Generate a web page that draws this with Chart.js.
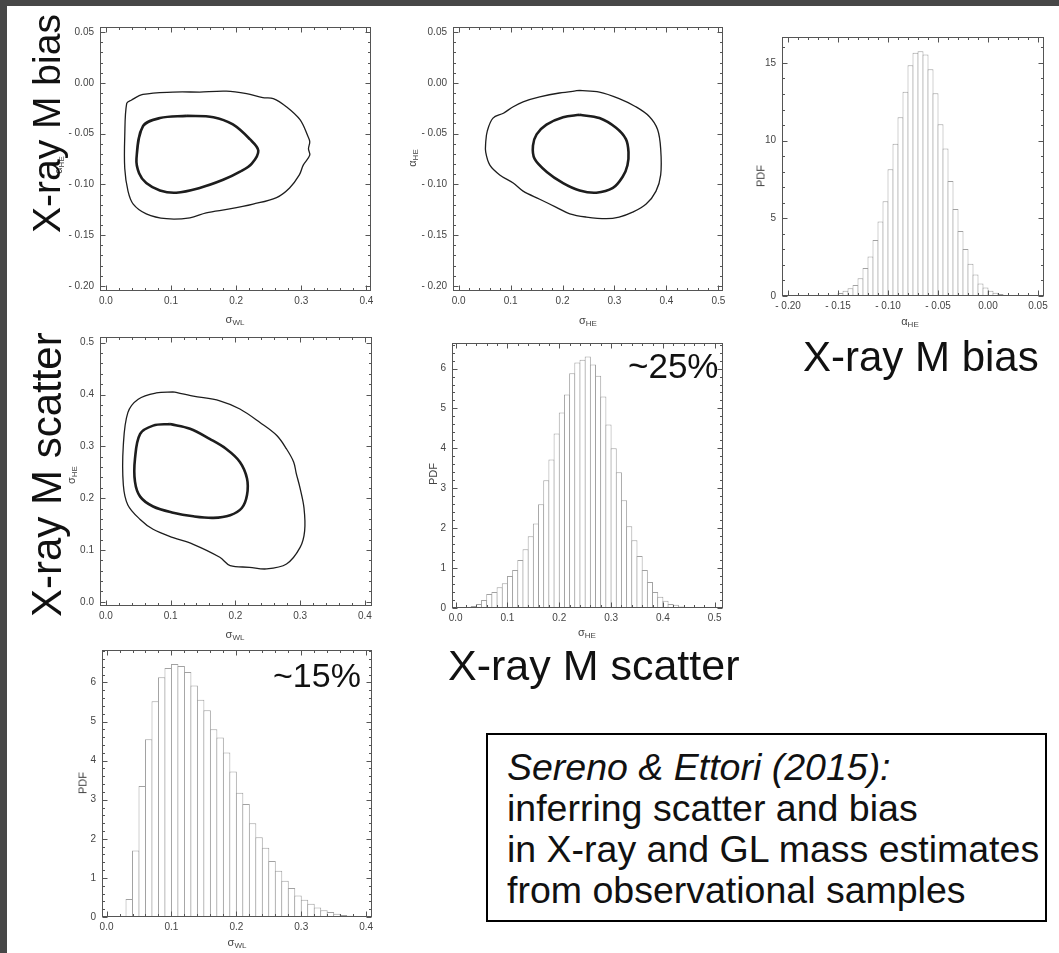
<!DOCTYPE html>
<html lang="en">
<head>
<meta charset="UTF-8">
<title>Sereno &amp; Ettori (2015): scatter and bias</title>
<script src="https://cdn.jsdelivr.net/npm/chart.js@4"></script>
<style>
  html, body { margin: 0; padding: 0; }
  body { width: 1059px; height: 953px; background: #474747; position: relative; overflow: hidden;
         font-family: "Liberation Sans", Arial, sans-serif; }
  .sheet { position: absolute; left: 7px; top: 6px; right: 0; bottom: 0; background: #fff; }
  canvas { position: absolute; }
  .ax { position: absolute; white-space: nowrap; line-height: 1; color: #444; font-size: 11px;
        transform: translate(-50%, -50%); }
  .ax.rot { transform: translate(-50%, -50%) rotate(-90deg); }
  .ax sub { font-size: 8px; vertical-align: -2px; }
  .big { position: absolute; white-space: nowrap; line-height: 1; color: #111; }
  .big.rot { transform-origin: 0 0; transform: rotate(-90deg); }
  .note { position: absolute; left: 486px; top: 733px; width: 557px; height: 185px;
          border: 2px solid #000; box-sizing: content-box; }
  .note p { margin: 0; padding: 12px 0 0 19px; font-size: 37.5px; line-height: 41px; color: #111; }
</style>
</head>
<body>
<div class="sheet"></div>

<script>
// axis ticks
const wlTicks = [0, 0.1, 0.2, 0.3, 0.4];
const heTicks = [0, 0.1, 0.2, 0.3, 0.4, 0.5];
const biasTicks = [-0.20, -0.15, -0.10, -0.05, 0.00, 0.05];
const pdfBiasTicks = [0, 5, 10, 15];
const pdfTicks = [0, 1, 2, 3, 4, 5, 6];

// PDF of alpha_HE, bins of 0.005 from -0.165
const biasBinStart = -0.165;
const biasBinWidth = 0.005;
const biasPdf = [0.02, 0.04, 0.08, 0.2, 0.34, 0.5, 0.7, 1.15, 1.8, 2.55, 3.6, 4.8, 6.1,
  8.15, 9.8, 11.5, 13.14, 14.85, 15.65, 15.76, 15.55, 14.6, 13.05, 11.05, 9.5, 7.4,
  5.6, 4.18, 3.02, 2.07, 1.39, 0.8, 0.55, 0.34, 0.21, 0.13, 0.06, 0.03];

// PDF of sigma_HE, bins of 0.01 from 0.02
const heBinStart = 0.02;
const heBinWidth = 0.01;
const hePdf = [0.02, 0.05, 0.1, 0.2, 0.35, 0.4, 0.52, 0.62, 0.8, 0.95, 1.2, 1.47, 1.8,
  2.12, 2.6, 3.2, 3.72, 4.37, 4.9, 5.35, 5.88, 6.15, 6.22, 6.3, 6.1, 5.82, 5.3, 4.6,
  4.0, 3.4, 2.7, 2.05, 1.7, 1.3, 0.95, 0.65, 0.4, 0.28, 0.18, 0.1, 0.08, 0.04, 0.02, 0.01];

// PDF of sigma_WL, bins of 0.01 from 0.03
const wlBinStart = 0.03;
const wlBinWidth = 0.01;
const wlPdf = [0.46, 1.7, 3.35, 4.55, 5.52, 6.13, 6.37, 6.47, 6.42, 6.27, 5.92, 5.56,
  5.29, 4.8, 4.59, 4.21, 3.72, 3.18, 2.89, 2.4, 2.04, 1.77, 1.43, 1.18, 0.93, 0.74,
  0.55, 0.44, 0.34, 0.24, 0.17, 0.13, 0.08, 0.05, 0.03, 0.02, 0.01];

// confidence contours, [x, y]; each loop starts on its flat top edge
const wlBiasInner = [[0.124, -0.0325], [0.165, -0.0338], [0.195, -0.041], [0.221, -0.0555],
  [0.234, -0.0667], [0.224, -0.0795], [0.206, -0.0875], [0.18, -0.0955], [0.144, -0.1035],
  [0.108, -0.1082], [0.083, -0.106], [0.062, -0.0987], [0.051, -0.089], [0.047, -0.0747],
  [0.057, -0.0427], [0.083, -0.0347]];
const wlBiasOuter = [[0.144, -0.0091], [0.185, -0.0082], [0.216, -0.0107], [0.241, -0.0146],
  [0.257, -0.0155], [0.277, -0.0235], [0.298, -0.0363], [0.31, -0.0523], [0.313, -0.058],
  [0.311, -0.065], [0.313, -0.0712], [0.303, -0.081], [0.297, -0.0907], [0.282, -0.1035],
  [0.262, -0.113], [0.226, -0.1194], [0.19, -0.1242], [0.154, -0.128], [0.129, -0.1329],
  [0.093, -0.1338], [0.062, -0.129], [0.042, -0.1194], [0.034, -0.1066], [0.029, -0.0843],
  [0.029, -0.0523], [0.032, -0.0203], [0.039, -0.0171], [0.057, -0.0114], [0.103, -0.0091]];
const heBiasInner = [[0.233, -0.0315], [0.271, -0.0347], [0.303, -0.0443], [0.322, -0.0555],
  [0.327, -0.0683], [0.325, -0.0811], [0.316, -0.0923], [0.297, -0.1035], [0.265, -0.1082],
  [0.233, -0.106], [0.201, -0.0987], [0.169, -0.0875], [0.146, -0.0747], [0.143, -0.0619],
  [0.15, -0.0507], [0.169, -0.0411], [0.201, -0.0338]];
const heBiasOuter = [[0.233, -0.0075], [0.271, -0.0091], [0.309, -0.0155], [0.341, -0.0235],
  [0.367, -0.0331], [0.383, -0.0459], [0.389, -0.0651], [0.389, -0.0907], [0.38, -0.1066],
  [0.361, -0.1194], [0.335, -0.1274], [0.309, -0.1322], [0.284, -0.1338], [0.246, -0.1322],
  [0.214, -0.129], [0.188, -0.1226], [0.156, -0.1146], [0.124, -0.1066], [0.105, -0.0987],
  [0.079, -0.0907], [0.06, -0.0811], [0.052, -0.0683], [0.052, -0.0587], [0.055, -0.0475],
  [0.066, -0.0347], [0.086, -0.0299], [0.105, -0.0235], [0.124, -0.0187], [0.156, -0.0139],
  [0.194, -0.01]];
const wlHeInner = [[0.099, 0.343], [0.13, 0.334], [0.161, 0.314], [0.186, 0.295], [0.207, 0.27],
  [0.218, 0.238], [0.218, 0.206], [0.21, 0.181], [0.192, 0.167], [0.166, 0.162], [0.135, 0.165],
  [0.104, 0.172], [0.073, 0.184], [0.053, 0.203], [0.045, 0.232], [0.045, 0.276], [0.053, 0.324],
  [0.073, 0.34]];
const wlHeOuter = [[0.104, 0.405], [0.135, 0.397], [0.176, 0.388], [0.207, 0.372], [0.238, 0.346],
  [0.264, 0.321], [0.279, 0.295], [0.29, 0.27], [0.294, 0.248], [0.3, 0.219], [0.306, 0.181],
  [0.307, 0.137], [0.3, 0.105], [0.279, 0.073], [0.248, 0.0635], [0.222, 0.0667], [0.192, 0.07],
  [0.176, 0.086], [0.135, 0.111], [0.104, 0.124], [0.073, 0.14], [0.053, 0.159], [0.034, 0.187],
  [0.027, 0.226], [0.027, 0.302], [0.034, 0.365], [0.05, 0.391], [0.078, 0.403]];

Chart.defaults.font.family = "'Liberation Sans', Arial, sans-serif";

// "- 0.05" style labels
const signed = d => v => (v < -1e-9 ? '- ' : '') + Math.abs(v).toFixed(d);
const plain = v => String(v);

// Mathematica-like frame: box plus inward ticks on all four sides
const framePlugin = {
  id: 'frame',
  afterDraw(chart) {
    const o = chart.options.plugins.frame;
    if (!o) return;
    const { ctx, chartArea: a, scales: { x, y } } = chart;
    const l = Math.round(a.left) + 0.5, r = Math.round(a.right) - 0.5;
    const t = Math.round(a.top) + 0.5, b = Math.round(a.bottom) - 0.5;
    ctx.save();
    ctx.strokeStyle = '#555';
    ctx.lineWidth = 1;
    ctx.beginPath();
    const tickX = (v, len) => {
      const p = Math.round(x.getPixelForValue(v)) + 0.5;
      ctx.moveTo(p, b); ctx.lineTo(p, b - len);
      ctx.moveTo(p, t); ctx.lineTo(p, t + len);
    };
    const tickY = (v, len) => {
      const p = Math.round(y.getPixelForValue(v)) + 0.5;
      ctx.moveTo(l, p); ctx.lineTo(l + len, p);
      ctx.moveTo(r, p); ctx.lineTo(r - len, p);
    };
    const minors = (scale, major, step, draw) => {
      for (let k = Math.ceil(scale.min / step - 1e-6); k * step <= scale.max + 1e-9; k++) {
        const v = k * step;
        if (!major.some(m => Math.abs(m - v) < step / 10)) draw(v, 2.5);
      }
    };
    o.xTicks.forEach(v => tickX(v, 5));
    o.yTicks.forEach(v => tickY(v, 5));
    minors(x, o.xTicks, o.xMinor, tickX);
    minors(y, o.yTicks, o.yMinor, tickY);
    ctx.stroke();
    ctx.strokeRect(l, t, r - l, b - t);
    ctx.restore();
  }
};

const Y_AXIS_W = 44, X_AXIS_H = 22, PAD_T = 8, PAD_R = 16;

function axis(min, max, ticks, fmt, isX) {
  return {
    type: 'linear', min, max, offset: false,
    grid: { display: false, drawTicks: false },
    border: { display: false },
    afterBuildTicks: s => { s.ticks = ticks.map(v => ({ value: v })); },
    afterFit: s => { if (isX) s.height = X_AXIS_H; else s.width = Y_AXIS_W; },
    ticks: { color: '#444', font: { size: 10 }, padding: isX ? 4 : 6,
             maxRotation: 0, autoSkip: false, callback: fmt }
  };
}

// frame = page rect of the plotting box
function panel(frame, type, datasets, xs, ys) {
  const c = document.createElement('canvas');
  const w = frame.r - frame.l + Y_AXIS_W + PAD_R;
  const h = frame.b - frame.t + PAD_T + X_AXIS_H;
  c.width = w; c.height = h;
  c.style.left = (frame.l - Y_AXIS_W) + 'px';
  c.style.top = (frame.t - PAD_T) + 'px';
  document.body.appendChild(c);
  return new Chart(c, {
    type,
    data: { datasets },
    options: {
      responsive: false, animation: false, events: [],
      layout: { padding: { top: PAD_T, right: PAD_R, left: 0, bottom: 0 } },
      scales: {
        x: axis(xs.min, xs.max, xs.ticks, xs.fmt, true),
        y: axis(ys.min, ys.max, ys.ticks, ys.fmt, false)
      },
      plugins: {
        legend: { display: false }, tooltip: { enabled: false },
        frame: { xTicks: xs.ticks, yTicks: ys.ticks, xMinor: xs.minor, yMinor: ys.minor }
      }
    },
    plugins: [framePlugin]
  });
}

const loop = pts => pts.concat([pts[0]]).map(([x, y]) => ({ x, y }));
const contour = (pts, width) => ({
  data: loop(pts), showLine: true, pointRadius: 0, fill: false,
  borderColor: '#1d1d1d', borderWidth: width, tension: 0.35
});
const hist = (start, width, pdf, overlap) => ({
  data: pdf.map((v, i) => ({ x: start + (i + 0.5) * width, y: v })),
  backgroundColor: '#fff', borderColor: '#a2a2a2', borderWidth: 1,
  barPercentage: overlap, categoryPercentage: 1
});

const xWL = { min: -0.009, max: 0.407, ticks: wlTicks, fmt: v => v.toFixed(1), minor: 0.02 };
const xHE = { min: -0.011, max: 0.509, ticks: heTicks, fmt: v => v.toFixed(1), minor: 0.02 };
const yBias = { min: -0.205, max: 0.055, ticks: biasTicks, fmt: signed(2), minor: 0.01 };

// alpha_HE vs sigma_WL
panel({ l: 100, t: 23, r: 371, b: 291 }, 'scatter',
  [contour(wlBiasInner, 2.6), contour(wlBiasOuter, 1.3)], xWL, yBias);

// alpha_HE vs sigma_HE
panel({ l: 453, t: 23, r: 723, b: 291 }, 'scatter',
  [contour(heBiasInner, 2.6), contour(heBiasOuter, 1.3)], xHE, yBias);

// PDF of alpha_HE
panel({ l: 782, t: 33, r: 1044, b: 296 }, 'bar',
  [hist(biasBinStart, biasBinWidth, biasPdf, 1.2)],
  { min: -0.206, max: 0.056, ticks: biasTicks, fmt: signed(2), minor: 0.01 },
  { min: 0, max: 16.67, ticks: pdfBiasTicks, fmt: plain, minor: 1 });

// sigma_HE vs sigma_WL
panel({ l: 100, t: 333, r: 372, b: 606 }, 'scatter',
  [contour(wlHeInner, 2.6), contour(wlHeOuter, 1.3)],
  { min: -0.009, max: 0.411, ticks: wlTicks, fmt: v => v.toFixed(1), minor: 0.02 },
  { min: -0.008, max: 0.511, ticks: heTicks, fmt: v => v.toFixed(1), minor: 0.02 });

// PDF of sigma_HE
panel({ l: 452, t: 339, r: 723, b: 608 }, 'bar',
  [hist(heBinStart, heBinWidth, hePdf, 1.19)],
  { min: -0.007, max: 0.516, ticks: heTicks, fmt: v => v.toFixed(1), minor: 0.02 },
  { min: 0, max: 6.64, ticks: pdfTicks, fmt: plain, minor: 0.2 });

// PDF of sigma_WL
panel({ l: 102, t: 646, r: 372, b: 917 }, 'bar',
  [hist(wlBinStart, wlBinWidth, wlPdf, 1.15)],
  { min: -0.007, max: 0.409, ticks: wlTicks, fmt: v => v.toFixed(1), minor: 0.02 },
  { min: 0, max: 6.83, ticks: pdfTicks, fmt: plain, minor: 0.2 });
</script>

<!-- axis titles -->
<div class="ax" style="left:235px;top:320px">σ<sub>WL</sub></div>
<div class="ax rot" style="left:59px;top:165px">α<sub>HE</sub></div>
<div class="ax" style="left:588px;top:321px">σ<sub>HE</sub></div>
<div class="ax rot" style="left:413px;top:158px">α<sub>HE</sub></div>
<div class="ax" style="left:910px;top:322px">α<sub>HE</sub></div>
<div class="ax rot" style="left:761px;top:176px">PDF</div>
<div class="ax" style="left:235px;top:635px">σ<sub>WL</sub></div>
<div class="ax rot" style="left:72px;top:475px">σ<sub>HE</sub></div>
<div class="ax" style="left:587px;top:633px">σ<sub>HE</sub></div>
<div class="ax rot" style="left:433px;top:474px">PDF</div>
<div class="ax" style="left:237px;top:943px">σ<sub>WL</sub></div>
<div class="ax rot" style="left:83px;top:783px">PDF</div>

<!-- parameter labels -->
<div class="big rot" style="left:27px;top:233px;font-size:39px">X-ray M bias</div>
<div class="big rot" style="left:26px;top:617px;font-size:42px">X-ray M scatter</div>
<div class="big" style="left:803px;top:336px;font-size:42px">X-ray M bias</div>
<div class="big" style="left:448px;top:644px;font-size:43px">X-ray M scatter</div>
<div class="big" style="left:628px;top:348px;font-size:35px">~25%</div>
<div class="big" style="left:273px;top:658px;font-size:34px">~15%</div>

<div class="note"><p><i>Sereno &amp; Ettori (2015):</i><br>inferring scatter and bias<br>in X-ray and GL mass estimates<br>from observational samples</p></div>
</body>
</html>
